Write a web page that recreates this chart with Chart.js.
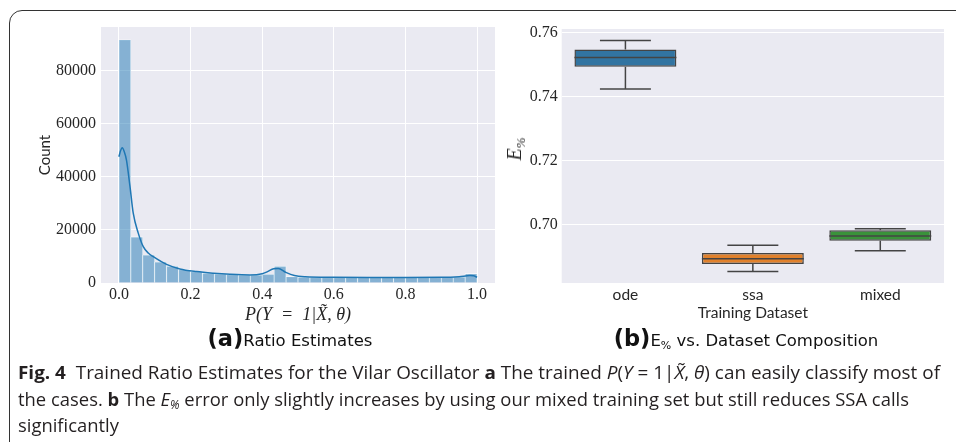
<!DOCTYPE html>
<html lang="en">
<head>
<meta charset="UTF-8">
<title>Trained Ratio Estimates for the Vilar Oscillator</title>
<script src="https://cdn.jsdelivr.net/npm/chart.js"></script>
<style>
    body {
        margin: 0;
        width: 956px;
        height: 442px;
        overflow: hidden;
        position: relative;
        background: #fff;
        font-family: 'DejaVu Sans', sans-serif;
    }
    #frame {
        position: absolute;
        left: 9px;
        top: 10px;
        width: 1000px;
        height: 500px;
        border: 1.5px solid #333;
        border-radius: 13px;
    }
    canvas { position: absolute; top: 0; }
    #chartA { left: 0; }
    #chartB { left: 490px; }
    .sub {
        position: absolute;
        top: 326px;
        white-space: nowrap;
        color: #111;
        font-size: 16.5px;
        line-height: 24px;
        transform: translateX(-50%);
    }
    .sub b { font-size: 22.5px; }
    .sub sub { font-size: 11px; vertical-align: -3px; }
    #ylabB {
        position: absolute;
        left: 516px;
        top: 149px;
        transform: translate(-50%, -50%) rotate(-90deg);
        font: italic 20px 'Liberation Serif', serif;
        color: #262626;
        white-space: nowrap;
    }
    #ylabB sub { font-size: 13px; vertical-align: -4px; }
    .cap {
        position: absolute;
        left: 18px;
        white-space: nowrap;
        font: 18.5px 'Open Sans', sans-serif;
        color: #231f20;
        line-height: 26px;
        transform-origin: 0 50%;
    }
    .cap i sub { font-size: 12px; vertical-align: -3px; }
</style>
</head>
<body>
    <div id="frame"></div>
    <canvas id="chartA" width="510" height="330"></canvas>
    <canvas id="chartB" width="466" height="330"></canvas>
    <div id="ylabB">E<sub>%</sub></div>
    <div class="sub" style="left:290px"><b>(a)</b>Ratio Estimates</div>
    <div class="sub" style="left:746px"><b>(b)</b>E<sub>%</sub> vs. Dataset Composition</div>
    <div class="cap" id="cap1" data-w="922" style="top:359px"><b>Fig. 4</b>&nbsp; Trained Ratio Estimates for the Vilar Oscillator <b>a</b> The trained <i>P</i>(<i>Y</i> = 1|<i>X̃</i>, <i>θ</i>) can easily classify most of</div>
    <div class="cap" id="cap2" data-w="891" style="top:386px">the cases. <b>b</b> The <i>E<sub>%</sub></i> error only slightly increases by using our mixed training set but still reduces SSA calls</div>
    <div class="cap" id="cap3" style="top:412px">significantly</div>
<script>
    // (a) histogram of P(Y=1|X,theta), 30 bins over [0, 1]
    const histCounts = [91700, 17360, 10570, 7930, 6290, 5030, 4280, 3650, 3400, 3150,
                        3020, 3020, 3270, 6290, 2400, 2200, 2150, 2150, 2150, 2150,
                        2150, 2150, 2150, 2150, 2150, 2150, 2200, 2200, 2250, 3520];
    const binCount = histCounts.length;

    // kde curve
    const kdeX = [0, 0.005, 0.009, 0.015, 0.021, 0.031, 0.04, 0.054, 0.068, 0.082, 0.096,
                  0.133, 0.17, 0.217, 0.264, 0.31, 0.366, 0.4, 0.415, 0.432, 0.445, 0.466,
                  0.49, 0.52, 0.6, 0.7, 0.8, 0.9, 0.95, 0.98, 0.99, 1.0];
    const kdeY = [47600, 50000, 51000, 49500, 46400, 36300, 26300, 18800, 13700, 11300, 9900,
                  7000, 5300, 4300, 3700, 3300, 3050, 3500, 4300, 5400, 5500, 4000,
                  2800, 2350, 2150, 2100, 2100, 2150, 2400, 2800, 2700, 2150];

    const xTicksA = [0, 0.2, 0.4, 0.6, 0.8, 1.0];
    const yTicksA = [0, 20000, 40000, 60000, 80000];

    // (b) box plot of E% per training set
    const groupsB = ['ode', 'ssa', 'mixed'];
    const whiskLoB = [0.7424, 0.6854, 0.6919];
    const q1B = [0.7493, 0.6877, 0.6950];
    const medianB = [0.7522, 0.6894, 0.6965];
    const q3B = [0.7547, 0.6912, 0.6983];
    const whiskHiB = [0.7575, 0.6936, 0.6987];
    const yTicksB = [0.70, 0.72, 0.74, 0.76];

    const boxColors = ['#3274a1', '#e1812c', '#3a923a'];
    const lineColor = '#444444';
    const textColor = '#262626';
    const serif = 'Liberation Serif';
    const sans = 'Lato';

    const plotBg = {
        id: 'plotBg',
        beforeDraw(chart) {
            const {ctx, chartArea: a} = chart;
            ctx.save();
            ctx.fillStyle = '#eaeaf2';
            ctx.fillRect(a.left, a.top, a.width, a.height);
            ctx.restore();
        }
    };

    const boxWhiskers = {
        id: 'boxWhiskers',
        afterDatasetsDraw(chart) {
            const {ctx} = chart;
            const y = chart.scales.y;
            const meta = chart.getDatasetMeta(0);
            const seg = (x1, y1, x2, y2) => {
                ctx.beginPath();
                ctx.moveTo(x1, y1);
                ctx.lineTo(x2, y2);
                ctx.stroke();
            };
            ctx.save();
            ctx.strokeStyle = lineColor;
            ctx.lineWidth = 1.5;
            meta.data.forEach((bar, i) => {
                const half = bar.width / 2;
                const yHi = y.getPixelForValue(whiskHiB[i]);
                const yLo = y.getPixelForValue(whiskLoB[i]);
                seg(bar.x, y.getPixelForValue(q3B[i]), bar.x, yHi);
                seg(bar.x, y.getPixelForValue(q1B[i]), bar.x, yLo);
                seg(bar.x - half / 2, yHi, bar.x + half / 2, yHi);
                seg(bar.x - half / 2, yLo, bar.x + half / 2, yLo);
                const yMed = y.getPixelForValue(medianB[i]);
                seg(bar.x - half, yMed, bar.x + half, yMed);
            });
            ctx.restore();
        }
    };

    const whiteGrid = {color: '#ffffff', lineWidth: 1, drawTicks: false, offset: false};

    new Chart(document.getElementById('chartA'), {
        type: 'bar',
        data: {
            datasets: [
                {
                    type: 'line',
                    data: kdeX.map((x, i) => ({x: x, y: kdeY[i]})),
                    borderColor: '#1f77b4',
                    borderWidth: 1.5,
                    pointRadius: 0,
                    cubicInterpolationMode: 'monotone',
                    order: 0
                },
                {
                    type: 'bar',
                    data: histCounts.map((c, i) => ({x: (i + 0.5) / binCount, y: c})),
                    backgroundColor: 'rgba(31, 119, 180, 0.5)',
                    borderColor: '#ffffff',
                    borderWidth: 0.6,
                    barPercentage: 1,
                    categoryPercentage: 1,
                    order: 1
                }
            ]
        },
        options: {
            responsive: false,
            animation: false,
            layout: {padding: {top: 27, right: 15, left: 0, bottom: 0}},
            plugins: {legend: {display: false}, tooltip: {enabled: false}},
            scales: {
                x: {
                    type: 'linear',
                    min: -0.05,
                    max: 1.05,
                    offset: false,
                    grid: whiteGrid,
                    border: {display: false},
                    afterBuildTicks: s => { s.ticks = xTicksA.map(v => ({value: v})); },
                    ticks: {
                        padding: 2,
                        color: textColor,
                        font: {family: serif, size: 16},
                        callback: v => v.toFixed(1)
                    },
                    title: {
                        display: true,
                        text: 'P(Y\u2002=\u20021|X̃, θ)',
                        color: textColor,
                        font: {family: serif, size: 18, style: 'italic'},
                        padding: {top: 0, bottom: 4}
                    },
                    afterFit: s => { s.height = 47; }
                },
                y: {
                    min: 0,
                    max: 96500,
                    grid: whiteGrid,
                    border: {display: false},
                    afterBuildTicks: s => { s.ticks = yTicksA.map(v => ({value: v})); },
                    ticks: {
                        padding: 5,
                        color: textColor,
                        font: {family: serif, size: 16},
                        callback: v => String(v)
                    },
                    title: {
                        display: true,
                        text: 'Count',
                        color: textColor,
                        font: {family: sans, size: 15},
                        padding: {top: 36, bottom: 0}
                    },
                    afterFit: s => { s.width = 101; }
                }
            }
        },
        plugins: [plotBg]
    });

    new Chart(document.getElementById('chartB'), {
        type: 'bar',
        data: {
            labels: groupsB,
            datasets: [{
                data: groupsB.map((g, i) => [q1B[i], q3B[i]]),
                backgroundColor: boxColors,
                borderColor: lineColor,
                borderWidth: 1.5,
                borderSkipped: false,
                categoryPercentage: 0.8,
                barPercentage: 1
            }]
        },
        options: {
            responsive: false,
            animation: false,
            layout: {padding: {top: 29, right: 12, left: 0, bottom: 0}},
            plugins: {legend: {display: false}, tooltip: {enabled: false}},
            scales: {
                x: {
                    grid: {display: false, drawTicks: false},
                    border: {display: false},
                    ticks: {padding: 3, color: textColor, font: {family: sans, size: 15.5}},
                    title: {
                        display: true,
                        text: 'Training Dataset',
                        color: textColor,
                        font: {family: sans, size: 15.5},
                        padding: {top: 0, bottom: 8}
                    },
                    afterFit: s => { s.height = 47; }
                },
                y: {
                    min: 0.6818,
                    max: 0.7611,
                    grid: whiteGrid,
                    border: {display: false},
                    afterBuildTicks: s => { s.ticks = yTicksB.map(v => ({value: v})); },
                    ticks: {
                        padding: 4,
                        color: textColor,
                        font: {family: serif, size: 16},
                        callback: v => v.toFixed(2)
                    },
                    afterFit: s => { s.width = 71.7; }
                }
            }
        },
        plugins: [plotBg, boxWhiskers]
    });

    // squeeze caption lines to the reference widths
    let lastScale = 1;
    ['cap1', 'cap2', 'cap3'].forEach(id => {
        const el = document.getElementById(id);
        if (el.dataset.w) {
            lastScale = el.dataset.w / el.getBoundingClientRect().width;
        }
        el.style.transform = 'scaleX(' + lastScale + ')';
    });
</script>
</body>
</html>
